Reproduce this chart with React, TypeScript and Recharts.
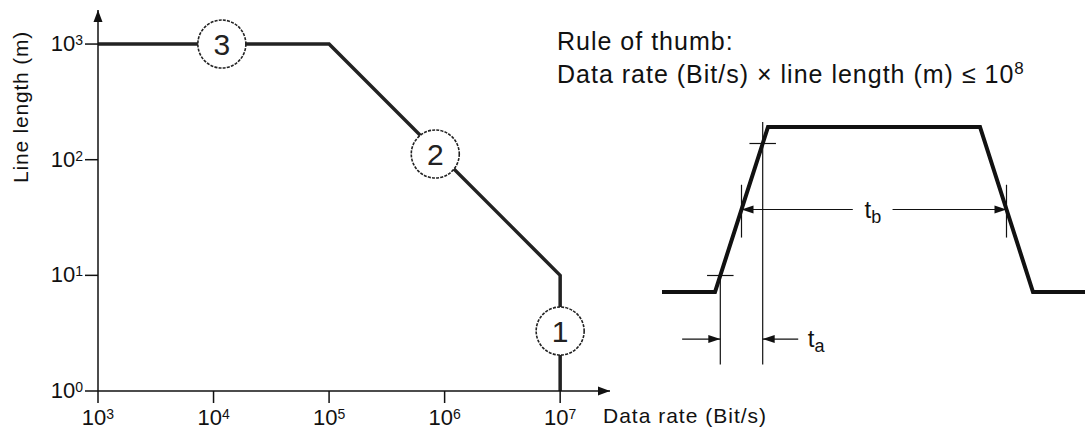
import { ComposedChart, LineChart, Line, XAxis, YAxis, ReferenceDot, ReferenceLine } from 'recharts';

const FONT = '"Liberation Sans", Arial, Helvetica, sans-serif';

// left chart: line length vs data rate (log / log)
const rates = [1e3, 1e5, 1e7, 1e7];
const lengths = [1e3, 1e3, 1e1, 1e0];
const rateTicks = [1e3, 1e4, 1e5, 1e6, 1e7];
const lengthTicks = [1, 10, 100, 1000];
const RATE_MAX = 2.7e7; // axis arrow tip
const LENGTH_MAX = 1970;

const markerLabels = ['3', '2', '1'];
const markerRates = [1.18e4, 8.3e5, 1e7];
const markerLengths = [1e3, 112, 3.3];

// right chart: pulse shape (time units, level 0..1)
const pulseTimes = [-1, 0, 1, 5, 6, 7];
const pulseLevels = [0, 0, 1, 1, 0, 0];
const LOW_MARK = 0.1;
const HIGH_MARK = 0.9;
const HALF_START = 0.5;
const HALF_END = 5.5;
const TA_LEVEL = -0.285;

const lineData = rates.map((r, i) => ({ rate: r, length: lengths[i] }));
const pulseData = pulseTimes.map((t, i) => ({ t, level: pulseLevels[i] }));

const PowerTick = (props: any) => {
  const { x, y, payload, anchor, dy } = props;
  const exp = Math.round(Math.log10(payload.value));
  return (
    <text x={x} y={y} dy={dy} textAnchor={anchor} fontSize={22} fill="#111" fontFamily={FONT}>
      10<tspan fontSize={14} dy={-6}>{exp}</tspan>
    </text>
  );
};

// arrow head with its tip on the point
const arrowHead = (dir: 'left' | 'right' | 'up', len = 12, half = 4) => (p: any) => {
  const { cx, cy } = p;
  let d = '';
  if (dir === 'right') d = `M${cx},${cy} L${cx - len},${cy - half} L${cx - len},${cy + half} Z`;
  if (dir === 'left') d = `M${cx},${cy} L${cx + len},${cy - half} L${cx + len},${cy + half} Z`;
  if (dir === 'up') d = `M${cx},${cy} L${cx - half},${cy + len} L${cx + half},${cy + len} Z`;
  return <path d={d} fill="#111" />;
};

const numberedCircle = (label: string) => (p: any) => (
  <g>
    <circle cx={p.cx} cy={p.cy} r={24} fill="#fff" stroke="#222" strokeWidth={1.6} strokeDasharray="3 1.2" />
    <text x={p.cx} y={p.cy} dy={11} textAnchor="middle" fontSize={30} fill="#222" fontFamily={FONT}>
      {label}
    </text>
  </g>
);

const subLabel = (main: string, sub: string, anchor: 'start' | 'middle') => (p: any) => (
  <text x={p.cx} y={p.cy} dy={8} textAnchor={anchor} fontSize={24} fill="#111" fontFamily={FONT}>
    {main}
    <tspan fontSize={18} dy={5}>{sub}</tspan>
  </text>
);

export default function App() {
  return (
    <div style={{ position: 'absolute', left: 0, top: 0, width: 1085, height: 431, background: '#fff', fontFamily: FONT, overflow: 'hidden' }}>
      <div style={{ position: 'absolute', left: 0, top: 0 }}>
        <ComposedChart width={800} height={431} data={lineData} margin={{ top: 10, right: 190, bottom: 0, left: 0 }}>
          <XAxis
            dataKey="rate"
            type="number"
            scale="log"
            domain={[1e3, RATE_MAX]}
            ticks={rateTicks}
            allowDataOverflow
            height={40}
            tickSize={12}
            tickMargin={0}
            stroke="#111"
            strokeWidth={1.5}
            tick={(p: any) => <PowerTick {...p} anchor="middle" dy={22} />}
          />
          <YAxis
            dataKey="length"
            type="number"
            scale="log"
            domain={[1, LENGTH_MAX]}
            ticks={lengthTicks}
            allowDataOverflow
            width={98}
            tickSize={13}
            tickMargin={2}
            stroke="#111"
            strokeWidth={1.5}
            tick={(p: any) => <PowerTick {...p} anchor="end" dy={7} />}
          />
          <Line dataKey="length" type="linear" stroke="#222" strokeWidth={3.5} dot={false} isAnimationActive={false} />
          <ReferenceDot x={RATE_MAX} y={1} ifOverflow="visible" shape={arrowHead('right', 12, 4.5)} />
          <ReferenceDot x={1e3} y={LENGTH_MAX} ifOverflow="visible" shape={arrowHead('up', 12, 4.5)} />
          {markerLabels.map((lab, i) => (
            <ReferenceDot key={lab} x={markerRates[i]} y={markerLengths[i]} ifOverflow="visible" shape={numberedCircle(lab)} />
          ))}
        </ComposedChart>
      </div>

      <div style={{ position: 'absolute', left: 662, top: 94 }}>
        <LineChart width={424} height={297} data={pulseData} margin={{ top: 0, right: 0, bottom: 0, left: 0 }}>
          <XAxis dataKey="t" type="number" domain={[-1, 7]} hide />
          <YAxis type="number" domain={[-0.6, 1.2]} hide />
          <Line dataKey="level" type="linear" stroke="#111" strokeWidth={4} dot={false} isAnimationActive={false} />
          {/* 10% / 90% marks */}
          <ReferenceLine segment={[{ x: LOW_MARK - 0.25, y: LOW_MARK }, { x: LOW_MARK + 0.25, y: LOW_MARK }]} stroke="#111" strokeWidth={1.2} />
          <ReferenceLine segment={[{ x: HIGH_MARK - 0.25, y: HIGH_MARK }, { x: HIGH_MARK + 0.25, y: HIGH_MARK }]} stroke="#111" strokeWidth={1.2} />
          <ReferenceLine segment={[{ x: LOW_MARK, y: LOW_MARK }, { x: LOW_MARK, y: -0.44 }]} stroke="#111" strokeWidth={1.2} />
          <ReferenceLine segment={[{ x: HIGH_MARK, y: 1.03 }, { x: HIGH_MARK, y: -0.44 }]} stroke="#111" strokeWidth={1.2} />
          {/* 50% marks and t_b */}
          <ReferenceLine segment={[{ x: HALF_START, y: 0.33 }, { x: HALF_START, y: 0.65 }]} stroke="#111" strokeWidth={1.2} />
          <ReferenceLine segment={[{ x: HALF_END, y: 0.33 }, { x: HALF_END, y: 0.65 }]} stroke="#111" strokeWidth={1.2} />
          <ReferenceLine segment={[{ x: HALF_START, y: 0.5 }, { x: 2.6, y: 0.5 }]} stroke="#111" strokeWidth={1.2} />
          <ReferenceLine segment={[{ x: 3.35, y: 0.5 }, { x: HALF_END, y: 0.5 }]} stroke="#111" strokeWidth={1.2} />
          <ReferenceDot x={HALF_START} y={0.5} shape={arrowHead('left')} />
          <ReferenceDot x={HALF_END} y={0.5} shape={arrowHead('right')} />
          <ReferenceDot x={2.98} y={0.5} shape={subLabel('t', 'b', 'middle')} />
          {/* t_a */}
          <ReferenceLine segment={[{ x: -0.62, y: TA_LEVEL }, { x: LOW_MARK, y: TA_LEVEL }]} stroke="#111" strokeWidth={1.2} />
          <ReferenceLine segment={[{ x: 1.57, y: TA_LEVEL }, { x: HIGH_MARK, y: TA_LEVEL }]} stroke="#111" strokeWidth={1.2} />
          <ReferenceDot x={LOW_MARK} y={TA_LEVEL} shape={arrowHead('right')} />
          <ReferenceDot x={HIGH_MARK} y={TA_LEVEL} shape={arrowHead('left')} />
          <ReferenceDot x={1.75} y={TA_LEVEL} shape={subLabel('t', 'a', 'start')} />
        </LineChart>
      </div>

      <svg width={1085} height={431} style={{ position: 'absolute', left: 0, top: 0, pointerEvents: 'none' }}>
        <text transform="translate(28,107) rotate(-90)" textAnchor="middle" fontSize={21} letterSpacing={0.8} fill="#111" fontFamily={FONT}>
          Line length (m)
        </text>
        <text x={603} y={423} fontSize={21} letterSpacing={1} fill="#111" fontFamily={FONT}>
          Data rate (Bit/s)
        </text>
        <text x={557} y={50} fontSize={25} letterSpacing={1} fill="#111" fontFamily={FONT}>
          Rule of thumb:
        </text>
        <text x={557} y={83} fontSize={25} letterSpacing={1} fill="#111" fontFamily={FONT}>
          Data rate (Bit/s) × line length (m) ≤ 10<tspan fontSize={17} dy={-9}>8</tspan>
        </text>
      </svg>
    </div>
  );
}
